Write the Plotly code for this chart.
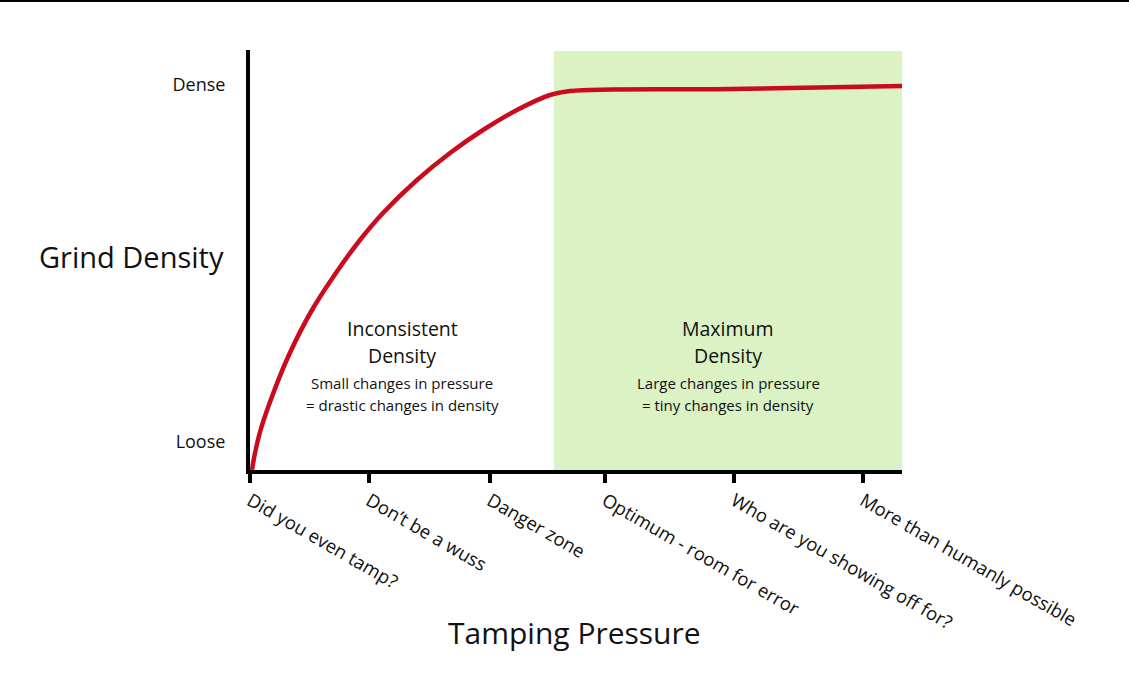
import plotly.graph_objects as go

# Data (arbitrary pressure / density units)
pressure = [2, 4, 10, 20, 38, 62, 88, 110, 133, 167, 200, 233, 267, 300, 320, 480, 652]
density = [0, 12, 38, 68, 113, 160, 200, 230, 257, 290, 317, 340, 360, 375, 379, 381, 384]

tick_positions = [0, 119, 240, 355, 484, 613]
tick_labels = ["Did you even tamp?", "Don\u2019t be a wuss", "Danger zone",
               "Optimum - room for error", "Who are you showing off for?",
               "More than humanly possible"]

density_ticks = [28, 385]
density_labels = ["Loose", "Dense"]

optimum_zone = [304, 652]
x_range = [0, 652]
y_range = [0, 420]

FONT = "Open Sans"

fig = go.Figure()

fig.add_trace(go.Scatter(
    x=pressure, y=density, mode="lines",
    line=dict(color="#cc0a1e", width=4.5, shape="spline", smoothing=1.0),
    cliponaxis=False, hoverinfo="skip", showlegend=False,
))

fig.add_shape(type="rect", xref="x", yref="y",
              x0=optimum_zone[0], x1=optimum_zone[1], y0=0, y1=419,
              fillcolor="#daf2c4", line=dict(width=0), layer="below")

# thin black rule at the very top of the image
fig.add_shape(type="line", xref="paper", yref="paper",
              x0=-250 / 652, x1=1 + 227 / 652, y0=1 + 49 / 420, y1=1 + 49 / 420,
              line=dict(color="black", width=2))

annotations = [
    dict(x=(0 + optimum_zone[0]) / 2, y=142, text="Inconsistent", size=19.5),
    dict(x=(0 + optimum_zone[0]) / 2, y=115, text="Density", size=19.5),
    dict(x=(0 + optimum_zone[0]) / 2, y=87, text="Small changes in pressure", size=15),
    dict(x=(0 + optimum_zone[0]) / 2, y=65, text="= drastic changes in density", size=15),
    dict(x=sum(optimum_zone) / 2, y=142, text="Maximum", size=19.5),
    dict(x=sum(optimum_zone) / 2, y=115, text="Density", size=19.5),
    dict(x=sum(optimum_zone) / 2, y=87, text="Large changes in pressure", size=15),
    dict(x=sum(optimum_zone) / 2, y=65, text="= tiny changes in density", size=15),
]
for a in annotations:
    fig.add_annotation(x=a["x"], y=a["y"], xref="x", yref="y", text=a["text"],
                       showarrow=False, xanchor="center", yanchor="middle",
                       font=dict(family=FONT, size=a["size"], color="#111"))

fig.add_annotation(x=-24 / 652, y=(470 - 256) / 420, xref="paper", yref="paper",
                   text="Grind Density", showarrow=False, xanchor="right", yanchor="middle",
                   font=dict(family=FONT, size=29, color="#111"))
fig.add_annotation(x=(574 - 250) / 652, y=-(632 - 470) / 420, xref="paper", yref="paper",
                   text="Tamping Pressure", showarrow=False, xanchor="center", yanchor="middle",
                   font=dict(family=FONT, size=30, color="#111"))

fig.update_layout(
    width=1129, height=674,
    margin=dict(l=250, r=227, t=50, b=204),
    paper_bgcolor="white", plot_bgcolor="white",
    font=dict(family=FONT, color="#111"),
    showlegend=False,
    xaxis=dict(range=x_range, showgrid=False, zeroline=False,
               showline=True, linecolor="black", linewidth=4,
               ticks="outside", ticklen=9, tickwidth=4, tickcolor="black",
               tickvals=tick_positions, ticktext=tick_labels, tickangle=30,
               tickfont=dict(family=FONT, size=18.5, color="#111")),
    yaxis=dict(range=y_range, showgrid=False, zeroline=False,
               showline=True, linecolor="black", linewidth=4,
               ticks="", tickvals=density_ticks, ticktext=density_labels,
               ticklabelstandoff=17,
               tickfont=dict(family=FONT, size=18, color="#111")),
)

fig.write_html("out.html", config={"displayModeBar": False},
               post_script="document.body.style.margin='0';")
